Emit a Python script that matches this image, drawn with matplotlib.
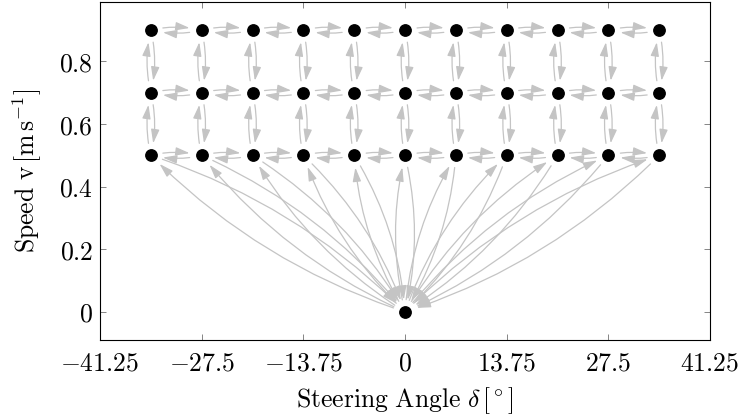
import numpy as np
import matplotlib.pyplot as plt
from matplotlib.patches import FancyArrowPatch

plt.rcParams['mathtext.fontset'] = 'cm'
plt.rcParams['font.family'] = 'serif'

# Nodes of the grid
steer = [-34.375, -27.5, -20.625, -13.75, -6.875, 0, 6.875, 13.75, 20.625, 27.5, 34.375]
speeds = [0.5, 0.7, 0.9]
origin = (0.0, 0.0)

xticks = [-41.25, -27.5, -13.75, 0, 13.75, 27.5, 41.25]
xlabels = ['$-41.25$', '$-27.5$', '$-13.75$', '$0$', '$13.75$', '$27.5$', '$41.25$']
yticks = [0, 0.2, 0.4, 0.6, 0.8]
ylabels = ['$0$', '$0.2$', '$0.4$', '$0.6$', '$0.8$']

# edges (both directions)
edges = []
for v in speeds:
    for i in range(len(steer) - 1):
        edges.append(((steer[i], v), (steer[i + 1], v)))
        edges.append(((steer[i + 1], v), (steer[i], v)))
for d in steer:
    for j in range(len(speeds) - 1):
        edges.append(((d, speeds[j]), (d, speeds[j + 1])))
        edges.append(((d, speeds[j + 1]), (d, speeds[j])))
    edges.append((origin, (d, speeds[0])))
    edges.append(((d, speeds[0]), origin))

fig = plt.figure(figsize=(7.43, 4.2), dpi=100)
ax = fig.add_axes([100 / 743, 80 / 420, 610 / 743, 338 / 420])
ax.set_xlim(-41.25, 41.25)
ax.set_ylim(-0.09, 0.99)

for a, b in edges:
    arr = FancyArrowPatch(a, b, connectionstyle='arc3,rad=-0.12',
                          arrowstyle='-|>,head_length=0.6,head_width=0.18',
                          mutation_scale=14, color='#c4c4c4', lw=0.9,
                          shrinkA=8.8, shrinkB=8.8, zorder=2)
    ax.add_patch(arr)

X, Y = np.meshgrid(steer, speeds)
ax.plot(X.ravel(), Y.ravel(), 'o', color='black', ms=8.2, zorder=3)
ax.plot(origin[0], origin[1], 'o', color='black', ms=8.2, zorder=3)

ax.set_xticks(xticks)
ax.set_xticklabels(xlabels, fontsize=18.5)
ax.set_yticks(yticks)
ax.set_yticklabels(ylabels, fontsize=18.5)
ax.tick_params(direction='in', top=True, right=True, length=4, width=0.5, color='#555555', pad=5)
ax.tick_params(axis='x', pad=7.5)
for s in ax.spines.values():
    s.set_linewidth(0.8)

ax.set_xlabel(r'$\mathrm{Steering\ Angle}\ \delta\,[^\circ]$', fontsize=18.5, labelpad=7)
ax.set_ylabel(r'$\mathrm{Speed\ v}\,[\mathrm{m\,s}^{-1}]$', fontsize=18.5, labelpad=11)

fig.savefig('out.png', dpi=100)
